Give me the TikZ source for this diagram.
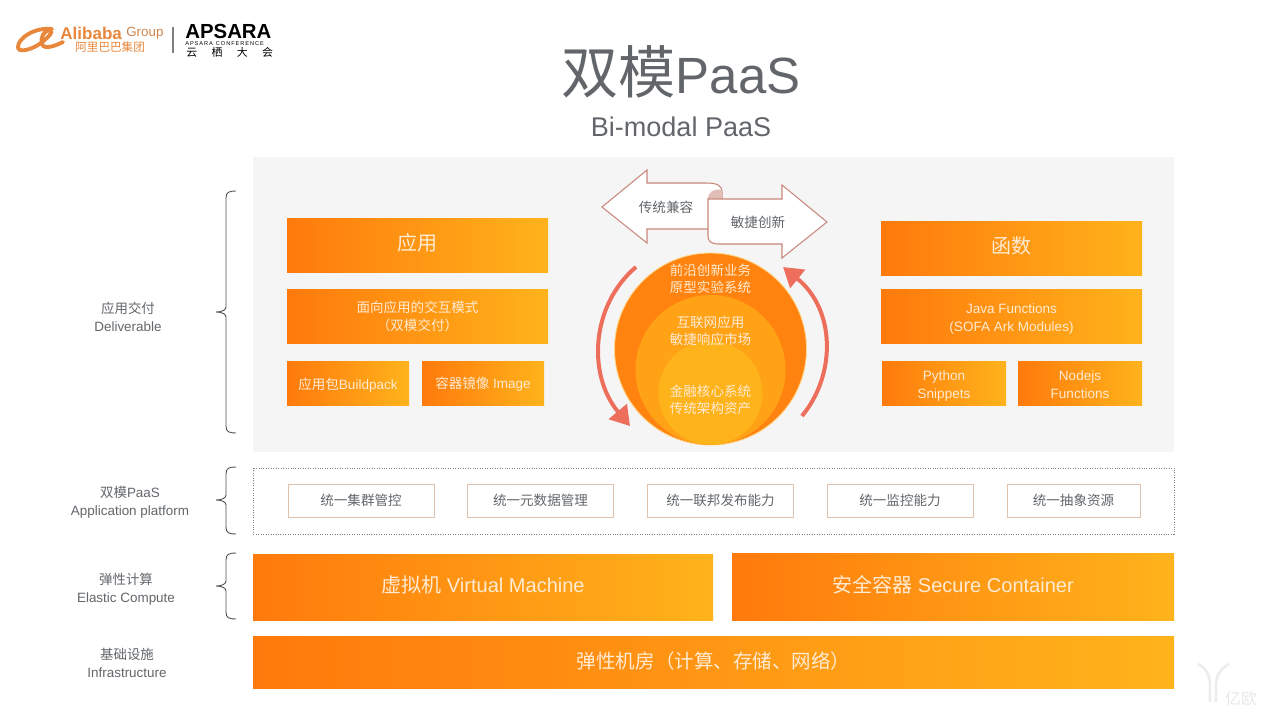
\documentclass[tikz,border=0pt]{standalone}
\usepackage{fontspec}
\usepackage{xcolor}
\usetikzlibrary{arrows.meta}
\setmainfont{Liberation Sans}
\newfontfamily\cjk{Noto Sans CJK SC}
\newcommand{\movetext}[2]{\raisebox{#1}[\height][\depth]{\begin{tabular}{@{}c@{}}#2\end{tabular}}}
\definecolor{boxleft}{HTML}{FF7A0C}
\definecolor{boxright}{HTML}{FFB31B}
\definecolor{cream}{HTML}{FFEBD2}
\definecolor{labelgray}{HTML}{62666A}
\definecolor{panelgray}{HTML}{F5F5F6}
\definecolor{arrowred}{HTML}{EE6E5C}
\definecolor{foldline}{HTML}{C9877C}
\definecolor{thinline}{HTML}{DFC2AE}
\definecolor{logoorange}{HTML}{E8873C}
\tikzset{
  boxwh/.style 2 args={minimum width=#1*0.02cm,minimum height=#2*0.02cm,inner sep=0pt},
  orangebox/.style={left color=boxleft,right color=boxright,text=cream,align=center,font=\fontsize{7.7pt}{10pt}\selectfont},
  thinbox/.style={draw=thinline,fill=white,line width=0.5pt,text=labelgray,font=\fontsize{7.7pt}{10pt}\selectfont},
  sidelabel/.style={text=labelgray,align=center,font=\fontsize{7.65pt}{10pt}\selectfont},
  circletext/.style={text=cream,align=center,font=\fontsize{7.7pt}{9.8pt}\selectfont},
  blockarrow/.style={draw=foldline,fill=white,line width=0.6pt,line join=miter},
  bendarrow/.style={draw=arrowred,line width=0.08cm,-{Triangle[length=0.38cm,width=0.46cm]}}
}
\begin{document}
\begin{tikzpicture}[x=0.02cm,y=-0.02cm]
  \useasboundingbox (0,0) rectangle (1267,713);
  % logo
  \draw[logoorange,line width=2.2pt,line cap=round] (52,29) .. controls (35,27) and (18,38) .. (18,47) .. controls (18,53) and (30,50) .. (38,45) .. controls (48,38) and (54,32) .. (50,30) .. controls (44,30) and (40,38) .. (42,44) .. controls (44,50) and (55,46) .. (63,42);
  \node[inner sep=0pt,anchor=west,text=logoorange,font=\fontsize{9.7pt}{10pt}\selectfont\bfseries] (alibaba) at (60,33) {Alibaba};
  \node[inner sep=0pt,anchor=west,text=logoorange!75!gray,font=\fontsize{7.6pt}{8pt}\selectfont] (group) at (126,33) {Group};
  \node[inner sep=0pt,anchor=west,text=logoorange,font=\fontsize{6.6pt}{8pt}\selectfont\cjk] (alicn) at (75,47) {阿里巴巴集团};
  \draw[gray,line width=0.7pt] (173,27) -- (173,53);
  \node[inner sep=0pt,anchor=west,text=black,font=\fontsize{11.6pt}{12pt}\selectfont\bfseries] (apsara) at (185,31) {APSARA};
  \node[inner sep=0pt,anchor=west,text=black,font=\fontsize{3.2pt}{4pt}\selectfont] (apsaraen) at (185,43.5) {A\,P\,S\,A\,R\,A\ \ C\,O\,N\,F\,E\,R\,E\,N\,C\,E};
  \node[inner sep=0pt,anchor=west,text=black,font=\fontsize{6.2pt}{8pt}\selectfont\cjk] (yunqi) at (186,52.5) {云\hspace{8.2pt}栖\hspace{8.2pt}大\hspace{8.2pt}会};
  % title
  \node[inner sep=0pt,text=labelgray] (title) at (681,72) {{\fontsize{32.5pt}{36pt}\selectfont\cjk 双模}{\fontsize{29pt}{36pt}\selectfont PaaS}};
  \node[inner sep=0pt,text=labelgray,font=\fontsize{15.4pt}{18pt}\selectfont] (subtitle) at (681,127) {Bi-modal PaaS};
  % panels
  \fill[panelgray] (253,157) rectangle (1174,452);
  \draw[gray,densely dotted,line width=0.4pt] (253,468) rectangle (1174,534);
  % braces
  \foreach \t/\b/\m in {191/433/312,467/534/500,553/619/586} {
    \draw[black!70,line width=0.5pt] (236,\t) .. controls (229,\t) and (226,\t+1) .. (226,\t+7) -- (226,\m-5) .. controls (226,\m-2) and (222,\m) .. (216,\m) .. controls (222,\m) and (226,\m+2) .. (226,\m+5) -- (226,\b-7) .. controls (226,\b-1) and (229,\b) .. (236,\b);
  }
  % side labels
  \node[sidelabel] (deliverable) at (128,317) {{\cjk 应用交付}\\Deliverable};
  \node[sidelabel] (platform) at (130,502.5) {{\cjk 双模}PaaS\\Application platform};
  \node[sidelabel] (compute) at (126,589) {{\cjk 弹性计算}\\Elastic Compute};
  \node[sidelabel] (infra) at (127,663) {{\cjk 基础设施}\\Infrastructure};
  % left column
  \node[orangebox,boxwh={261}{54},font=\fontsize{11.4pt}{12pt}\selectfont\cjk] (app) at (417.5,245) {\movetext{0pt}{应用}};
  \node[orangebox,boxwh={261}{54}] (mode) at (417.5,316) {\movetext{-1.2pt}{{\cjk 面向应用的交互模式}\\{\cjk （双模交付）}}};
  \node[orangebox,boxwh={122}{44}] (buildpack) at (348,383) {\movetext{-1.5pt}{{\cjk 应用包}Buildpack}};
  \node[orangebox,boxwh={122}{44}] (image) at (483,383) {\movetext{-1.3pt}{{\cjk 容器镜像} Image}};
  % right column
  \node[orangebox,boxwh={261}{54},font=\fontsize{11.4pt}{12pt}\selectfont\cjk] (func) at (1011.5,248) {\movetext{0pt}{函数}};
  \node[orangebox,boxwh={261}{54}] (java) at (1011.5,316) {\movetext{-1.7pt}{Java Functions\\(SOFA Ark Modules)}};
  \node[orangebox,boxwh={124}{44}] (python) at (944,383) {\movetext{-1.7pt}{Python\\Snippets}};
  \node[orangebox,boxwh={124}{44}] (nodejs) at (1080,383) {\movetext{-1.7pt}{Nodejs\\Functions}};
  % circles
  \fill[boxleft!85!boxright,draw=cream!60!boxright,line width=0.5pt] (710.5,349) circle (96);
  \fill[boxright!70!boxleft] (710.5,370) circle (75);
  \fill[boxright] (710.5,393) circle (52);
  \node[circletext] (outer) at (710.5,278.5) {{\cjk 前沿创新业务}\\{\cjk 原型实验系统}};
  \node[circletext] (middle) at (710.5,330.5) {{\cjk 互联网应用}\\{\cjk 敏捷响应市场}};
  \node[circletext] (inner) at (710.5,399.5) {{\cjk 金融核心系统}\\{\cjk 传统架构资产}};
  % block arrows
  \draw[blockarrow] (708,229) -- (647,229) -- (647,243) -- (602,207) -- (647,170) -- (647,183) -- (706,183) .. controls (716,183) and (722,185) .. (722,192) -- (722,199);
  \fill[foldline!55!white] (708,199) .. controls (708,192) and (714,188) .. (722,190) -- (722,199) -- cycle;
  \draw[blockarrow] (708,199) -- (782,199) -- (782,185) -- (827,222) -- (782,258) -- (782,244) -- (718,244) .. controls (711,244) and (708,241) .. (708,236) -- cycle;
  \node[inner sep=0pt,text=labelgray,font=\fontsize{7.7pt}{10pt}\selectfont\cjk] (compat) at (666,207) {传统兼容};
  \node[inner sep=0pt,text=labelgray,font=\fontsize{7.7pt}{10pt}\selectfont\cjk] (agile) at (758,222) {敏捷创新};
  % round arrows
  \coordinate (leftstart) at (636,267);
  \coordinate (leftend) at (630,426);
  \coordinate (rightstart) at (802,416);
  \coordinate (rightend) at (783,267);
  \draw[bendarrow] (leftstart) .. controls (591,305) and (587,375) .. (leftend);
  \draw[bendarrow] (rightstart) .. controls (836,375) and (836,310) .. (rightend);
  % platform boxes
  \foreach \x/\w/\n/\s in {361/146/cluster/统一集群管控,540.5/146/meta/统一元数据管理,720.5/146/fed/统一联邦发布能力,900/146/monitor/统一监控能力,1073.5/133/res/统一抽象资源} {
    \node[thinbox,boxwh={\w}{33}] (\n) at (\x,500.5) {\cjk \s};
  }
  % bottom bars
  \node[orangebox,boxwh={460}{66},font=\fontsize{11.4pt}{12pt}\selectfont] (vm) at (483,587) {\movetext{0pt}{{\cjk 虚拟机} Virtual Machine}};
  \node[orangebox,boxwh={442}{67},font=\fontsize{11.4pt}{12pt}\selectfont] (secure) at (953,586.5) {\movetext{-0.4pt}{{\cjk 安全容器} Secure Container}};
  \node[orangebox,boxwh={921}{52},font=\fontsize{11.1pt}{12pt}\selectfont\cjk] (room) at (713.5,662) {\movetext{-0.6pt}{弹性机房（计算、存储、网络）}};
  % watermark
  \draw[black!7,line width=1.6pt] (1198,664) .. controls (1206,668) and (1210,676) .. (1210,684) -- (1210,702);
  \draw[black!7,line width=1.6pt] (1229,664) .. controls (1221,668) and (1216,676) .. (1216,684) -- (1216,702);
  \node[inner sep=0pt,text=black!9,font=\fontsize{9pt}{10pt}\selectfont\cjk] (yiou) at (1241,699) {亿欧};
\end{tikzpicture}
\end{document}
